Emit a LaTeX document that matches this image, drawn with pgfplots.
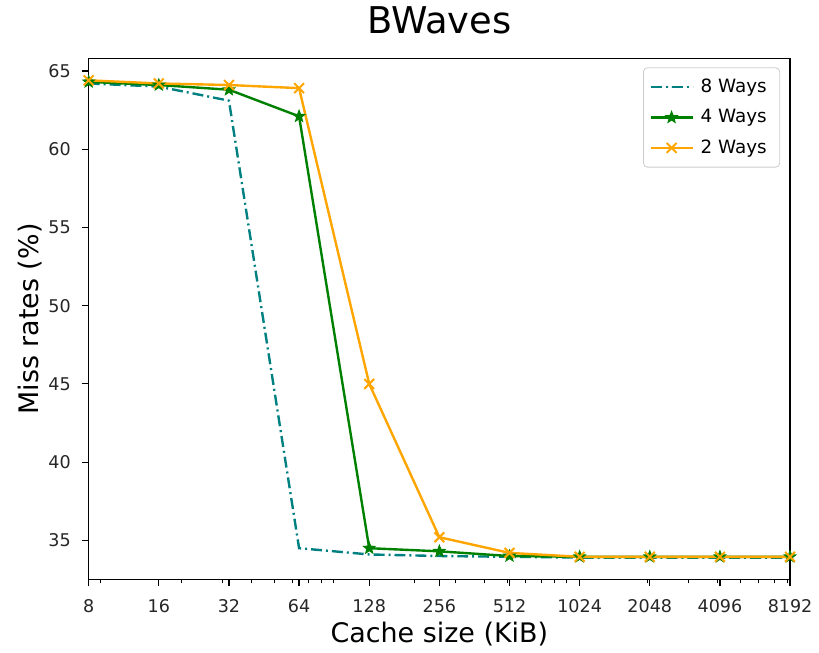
\documentclass[border=0pt]{standalone}
\usepackage{pgfplots}
\pgfplotsset{compat=1.18}
\usepackage{fontspec}
\setmainfont{DejaVu Sans}
\usetikzlibrary{plotmarks}
\definecolor{cteal}{RGB}{0,128,128}
\definecolor{cgreen}{RGB}{0,128,0}
\definecolor{corange}{RGB}{255,165,0}
\pgfdeclareplotmark{fstar}{%
  \pgfpathmoveto{\pgfpointpolar{90}{\pgfplotmarksize}}%
  \pgfpathlineto{\pgfpointpolar{126}{0.42\pgfplotmarksize}}%
  \pgfpathlineto{\pgfpointpolar{162}{\pgfplotmarksize}}%
  \pgfpathlineto{\pgfpointpolar{198}{0.42\pgfplotmarksize}}%
  \pgfpathlineto{\pgfpointpolar{234}{\pgfplotmarksize}}%
  \pgfpathlineto{\pgfpointpolar{270}{0.42\pgfplotmarksize}}%
  \pgfpathlineto{\pgfpointpolar{306}{\pgfplotmarksize}}%
  \pgfpathlineto{\pgfpointpolar{342}{0.42\pgfplotmarksize}}%
  \pgfpathlineto{\pgfpointpolar{18}{\pgfplotmarksize}}%
  \pgfpathlineto{\pgfpointpolar{54}{0.42\pgfplotmarksize}}%
  \pgfpathclose
  \pgfusepathqfillstroke}
\begin{document}
\begin{tikzpicture}
\begin{axis}[
  scale only axis,
  width=352pt, height=261.5pt,
  xmode=log,
  xmin=8, xmax=8192,
  ymin=32.5, ymax=65.8,
  xtick={8,16,32,64,128,256,512,1024,2048,4096,8192},
  xticklabels={8,16,32,64,128,256,512,1024,2048,4096,8192},
  minor xtick={9,20,30,40,50,60,70,80,90,200,300,400,500,600,700,800,900,2000,3000,4000,5000,6000,7000,8000},
  ytick={35,40,45,50,55,60,65},
  tick align=outside,
  tick pos=left,
  major tick length=3.5pt,
  minor tick length=2pt,
  every tick/.style={black, line width=0.6pt},
  axis line style={line width=0.6pt},
  /pgf/number format/assume math mode=true,
  ticklabel style={font=\fontsize{8.8}{10.5}\selectfont, text=black!85},
  xticklabel style={yshift=-3pt},
  yticklabel style={xshift=-2pt},
  title={BWaves},
  title style={font=\fontsize{18.5}{22}\selectfont, at={(axis description cs:0.5,1)}, anchor=base, yshift=6.5pt},
  xlabel={Cache size (KiB)},
  ylabel={Miss rates (\%)},
  label style={font=\fontsize{13.5}{16}\selectfont},
  xlabel style={at={(axis description cs:0.5,-0.105)}, anchor=center},
  ylabel style={at={(axis description cs:-0.0838,0.5)}, anchor=center},
  legend style={at={(axis description cs:1,1)}, anchor=north east, xshift=-5pt, yshift=-4.5pt,
    draw=black!20, rounded corners=2pt, font=\fontsize{9.2}{11}\selectfont,
    inner xsep=3pt, inner ysep=3.5pt, row sep=3pt, cells={anchor=west},
    nodes={inner xsep=3.5pt}},
  legend cell align=left,
  legend image code/.code={\draw[mark repeat=2,mark phase=2] plot coordinates {(0pt,0pt) (10.5pt,0pt) (21pt,0pt)};},
]
\addplot[cteal, line width=1.2pt, dash pattern=on 5.5pt off 2pt on 1pt off 2pt] coordinates {
(8,64.2) (16,64.0) (32,63.1) (64,34.5) (128,34.1) (256,34.0) (512,33.95) (1024,33.9) (2048,33.9) (4096,33.9) (8192,33.9)};
\addlegendentry{8 Ways}
\addplot[cgreen, line width=1.2pt, mark=fstar, mark size=3pt, mark options={solid, line width=0.5pt}] coordinates {
(8,64.3) (16,64.1) (32,63.8) (64,62.1) (128,34.5) (256,34.3) (512,34.0) (1024,33.95) (2048,33.95) (4096,33.95) (8192,33.95)};
\addlegendentry{4 Ways}
\addplot[corange, line width=1.2pt, mark=x, mark size=3.5pt, mark options={solid, line width=1pt}] coordinates {
(8,64.4) (16,64.2) (32,64.1) (64,63.9) (128,45.0) (256,35.2) (512,34.2) (1024,33.95) (2048,33.95) (4096,33.95) (8192,33.95)};
\addlegendentry{2 Ways}
\end{axis}
\path (current axis.south west) ++(-44.5pt,-35pt) coordinate (bbsw);
\path (current axis.north east) ++(13pt,27.5pt) coordinate (bbne);
\useasboundingbox (bbsw) rectangle (bbne);
\end{tikzpicture}
\end{document}
